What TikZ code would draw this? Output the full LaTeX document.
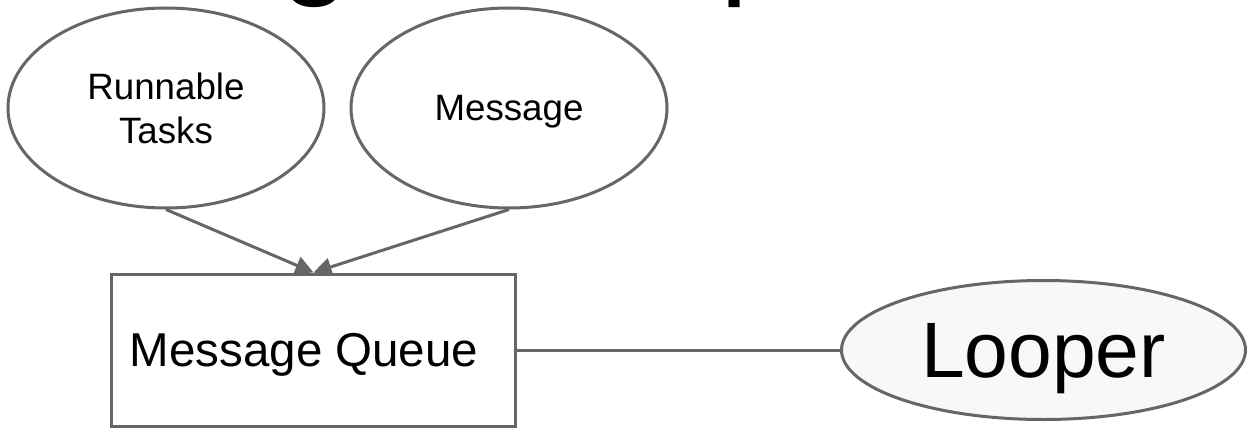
\documentclass[tikz,border=0pt]{standalone}
\usepackage{fontspec}
\setmainfont{Liberation Sans}
\usetikzlibrary{shapes.geometric,arrows.meta}
\definecolor{edge}{HTML}{666666}
\definecolor{soft}{HTML}{F8F8F8}
\tikzset{
  bubble/.style={ellipse, draw=edge, line width=3pt, fill=white, inner sep=0pt,
    align=center, font=\fontsize{36.7}{44}\selectfont},
  queuebox/.style={rectangle, draw=edge, line width=3pt, fill=white, inner sep=0pt,
    font=\fontsize{47.5}{56}\selectfont, text depth=0pt},
  loopnode/.style={ellipse, draw=edge, line width=3pt, fill=soft, inner sep=0pt,
    font=\fontsize{78.6}{90}\selectfont, text depth=0pt},
  feed/.style={draw=edge, line width=3pt, -{Triangle[length=18pt,width=18pt]}},
  link/.style={draw=edge, line width=3pt},
  headline/.style={font=\fontsize{126}{126}\selectfont, anchor=base, inner sep=0pt}
}
\begin{document}
\begin{tikzpicture}[x=1pt,y=-1pt]
  \useasboundingbox (0,0) rectangle (1249,428);
  \clip (0,0) rectangle (1249,428);
  \fill[white] (0,0) rectangle (1249,428);

  % descenders of the heading line above
  \node[headline] (hg) at (316,-18) {g};
  \node[headline] (hp) at (756,-18) {p};

  % sources
  \node[bubble, minimum width=316pt, minimum height=200pt] (rt) at (166,108)
    {Runnable\\Tasks};
  \node[bubble, minimum width=316pt, minimum height=200pt, text depth=0pt] (msg) at (509,108)
    {Message};

  % queue
  \node[queuebox, minimum width=404pt, minimum height=152pt] (mq) at (313.5,350)
    {\hspace*{-19pt}Message Queue};

  % looper
  \node[loopnode, minimum width=404pt, minimum height=139pt] (lp) at (1043.5,350)
    {Looper};

  % connectors
  \draw[feed] (rt.south) -- (mq.north);
  \draw[feed] (msg.south) -- (mq.north);
  \draw[link] (mq.east) -- (lp.west);
\end{tikzpicture}
\end{document}
